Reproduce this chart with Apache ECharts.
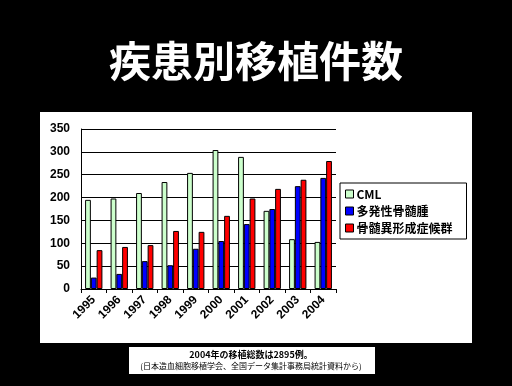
<!DOCTYPE html>
<html><head><meta charset="utf-8">
<script src="https://cdn.jsdelivr.net/npm/echarts@6/dist/echarts.min.js"></script>
<style>html,body{margin:0;padding:0;background:#000;}#c{width:512px;height:386px;}</style>
</head><body><div id="c"></div>
<script>
const categories = ['1995','1996','1997','1998','1999','2000','2001','2002','2003','2004'];
const cml = [195, 198, 210, 234, 254, 304, 289, 171, 109, 103];
const mm = [25, 33, 61, 52, 88, 105, 142, 175, 225, 243];
const mds = [85, 92, 96, 127, 125, 160, 198, 219, 239, 280];
const seriesNames = ['CML', '多発性骨髄腫', '骨髄異形成症候群'];
const yTicks = {min: 0, max: 350, interval: 50};
const titleText = '疾患別移植件数';
const note1 = '2004年の移植総数は2895例。';
const note2 = '(日本造血細胞移植学会、全国データ集計事務局統計資料から)';

const font = '"Liberation Sans", Arial, "Noto Sans CJK JP", sans-serif';
const cjk = '"Noto Sans CJK JP", sans-serif';
const chart = echarts.init(document.getElementById('c'), null, {renderer: 'canvas'});
const mk = (name, data, color) => ({
  name, type: 'bar', data, barGap: '0%', barCategoryGap: '32%',
  itemStyle: {color, borderColor: '#000', borderWidth: 1},
  animation: false
});
chart.setOption({
  backgroundColor: '#000',
  animation: false,
  graphic: [
    {type: 'rect', z: -10, shape: {x: 40, y: 112, width: 432, height: 231}, style: {fill: '#fff'}},
    {type: 'rect', z: -10, shape: {x: 129, y: 347, width: 246, height: 27}, style: {fill: '#fff'}},
    {type: 'text', left: 'center', top: 40, style: {text: titleText, fill: '#fff', font: 'bold 42px ' + cjk,
      textShadowColor: '#888', textShadowOffsetX: 3, textShadowOffsetY: 3, textShadowBlur: 0}},
    {type: 'text', x: 251, y: 355, style: {text: note1, fill: '#000', font: 'bold 9px ' + cjk, align: 'center', verticalAlign: 'middle'}},
    {type: 'text', x: 251, y: 366, style: {text: note2, fill: '#000', font: '8px ' + cjk, align: 'center', verticalAlign: 'middle'}}
  ],
  grid: {left: 81, top: 129, width: 255, height: 160, containLabel: false},
  legend: {
    orient: 'vertical', left: 340, top: 183,
    backgroundColor: '#fff', borderColor: '#000', borderWidth: 1,
    padding: [5, 14, 5, 5], itemGap: 5, itemWidth: 8, itemHeight: 8,
    icon: 'rect',
    itemStyle: {borderColor: '#000', borderWidth: 1},
    textStyle: {color: '#000', fontWeight: 'bold', fontSize: 12, fontFamily: cjk, padding: [0, 0, 0, -2]},
    data: seriesNames
  },
  xAxis: {
    type: 'category', data: categories,
    axisLine: {lineStyle: {color: '#000', width: 1}},
    axisTick: {show: true, length: 4, lineStyle: {color: '#000'}},
    axisLabel: {rotate: 45, color: '#000', fontWeight: 'bold', fontSize: 12, fontFamily: font, margin: 9}
  },
  yAxis: {
    type: 'value', min: yTicks.min, max: yTicks.max, interval: yTicks.interval,
    axisLine: {show: true, lineStyle: {color: '#000'}},
    axisTick: {show: false},
    splitLine: {lineStyle: {color: '#000', width: 1}},
    axisLabel: {color: '#000', fontWeight: 'bold', fontSize: 12, fontFamily: font, margin: 11}
  },
  series: [mk(seriesNames[0], cml, '#CCFFCC'), mk(seriesNames[1], mm, '#0000FF'), mk(seriesNames[2], mds, '#FF0000')]
});
</script></body></html>
